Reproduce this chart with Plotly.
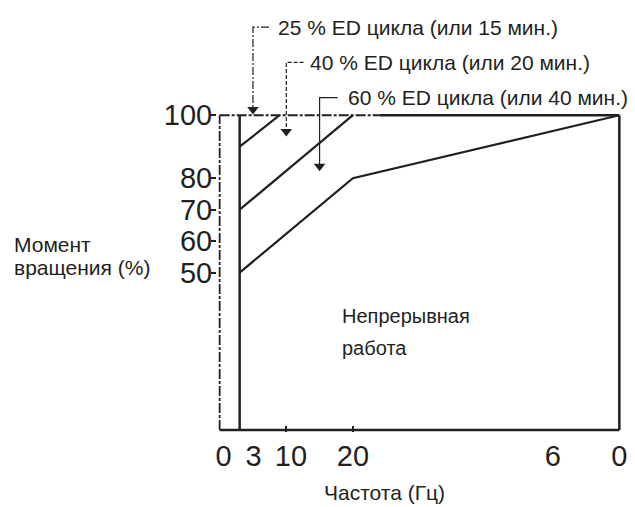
import plotly.graph_objects as go

# ---- data ----
x_range = [-0.4, 60.4]
y_range = [-0.6, 135]
x_min, x_max = 0, 60
y_min, y_top = 0, 100

x_label_pos = [0.6, 5.1, 10.7, 20, 50, 60]
x_ticktext = ["0", "3", "10", "20", "6", "0"]
x_tickmarks = [10, 20]
y_tickvals = [50, 60, 70, 80, 100]
y_ticktext = ["50", "60", "70", "80", "100"]

# duty-cycle limit curves
ed25_x = [3, 9]
ed25_y = [90, 100]
ed40_x = [3, 20]
ed40_y = [70, 100]
ed60_x = [3, 20, 60]
ed60_y = [50, 80, 100]
min_freq = 3

# callouts: label, leader x, leader top y, arrow tip y, elbow end x, text x, dash
callout_labels = ["25 % ED цикла (или 15 мин.)",
                  "40 % ED цикла (или 20 мин.)",
                  "60 % ED цикла (или 40 мин.)"]
callout_x = [5, 10, 15]
callout_top = [128, 116.8, 105.6]
callout_tip = [100, 93, 82]
callout_elbow = [7.4, 12.6, 17.7]
callout_text_x = [8.4, 13.2, 19.0]
callout_dash = ["8px,2px,2px,2px", "4px,2px", "solid"]

INK = "#231f20"
FONT = "Liberation Sans, Arial, Helvetica, sans-serif"

fig = go.Figure()

def line(xs, ys, width=2.5, dash="solid"):
    fig.add_trace(go.Scatter(x=xs, y=ys, mode="lines",
                             line=dict(color=INK, width=width, dash=dash),
                             hoverinfo="skip", showlegend=False))

# frame
line([x_min, x_min], [y_min, y_top], width=1.8, dash="10px,2px,3px,2px")   # left
line([x_min, 24], [y_top, y_top], width=2, dash="10px,2px,3px,2px")        # top (left part)
line([24, x_max], [y_top, y_top], width=2.5)                                # top (right part)
line([x_max, x_max], [y_min, y_top], width=2.5)                             # right
line([x_min, x_max], [y_min, y_min], width=2.5)                             # bottom
# minimum frequency line
line([min_freq, min_freq], [y_min, y_top], width=2.5)

# limit curves
line(ed25_x, ed25_y, width=2.2)
line(ed40_x, ed40_y, width=2.2)
line(ed60_x, ed60_y, width=2.2)

# callout leaders and arrowheads
for lab, cx, top, tip, ex, tx, d in zip(callout_labels, callout_x, callout_top,
                                        callout_tip, callout_elbow, callout_text_x,
                                        callout_dash):
    line([ex, cx, cx], [top, top, tip + 2.5], width=1.2, dash=d)
    fig.add_trace(go.Scatter(x=[cx], y=[tip + 1.8], mode="markers",
                             marker=dict(symbol="triangle-down", size=10, color=INK),
                             hoverinfo="skip", showlegend=False, cliponaxis=False))
    fig.add_annotation(x=tx, y=top, text=lab, showarrow=False, xanchor="left",
                       yanchor="middle", font=dict(size=21, color=INK, family=FONT))

# region label
fig.add_annotation(x=18.0, y=36.3, text="Непрерывная", showarrow=False, xanchor="left",
                   yanchor="middle", font=dict(size=20, color=INK, family=FONT))
fig.add_annotation(x=18.0, y=26.2, text="работа", showarrow=False, xanchor="left",
                   yanchor="middle", font=dict(size=20, color=INK, family=FONT))

# axis titles (paper coordinates)
fig.add_annotation(x=-0.507, y=0.439, xref="paper", yref="paper", text="Момент",
                   showarrow=False, xanchor="left", yanchor="middle",
                   font=dict(size=21, color=INK, family=FONT))
fig.add_annotation(x=-0.507, y=0.385, xref="paper", yref="paper", text="вращения (%)",
                   showarrow=False, xanchor="left", yanchor="middle",
                   font=dict(size=21, color=INK, family=FONT))
fig.add_annotation(x=0.4148, y=-0.1426, xref="paper", yref="paper", text="Частота (Гц)",
                   showarrow=False, xanchor="center", yanchor="middle",
                   font=dict(size=21, color=INK, family=FONT))

fig.update_layout(
    width=635, height=507,
    margin=dict(l=217, r=13, t=5, b=75),
    paper_bgcolor="white", plot_bgcolor="white",
    font=dict(family=FONT, color=INK),
    xaxis=dict(range=x_range, tickvals=x_label_pos, ticktext=x_ticktext,
               ticks="", showgrid=False, zeroline=False, showline=False,
               ticklabelstandoff=4,
               tickfont=dict(size=29, color=INK, family=FONT), fixedrange=True),
    xaxis2=dict(range=x_range, overlaying="x", tickvals=x_tickmarks, ticks="inside",
                ticklen=6, tickwidth=1.5, tickcolor=INK, showticklabels=False,
                showgrid=False, zeroline=False, showline=False, side="bottom"),
    yaxis=dict(range=y_range, tickvals=y_tickvals, ticktext=y_ticktext,
               ticks="outside", ticklen=5, tickwidth=1.5, tickcolor=INK,
               showgrid=False, zeroline=False, showline=False,
               ticklabelstandoff=-7,
               tickfont=dict(size=29, color=INK, family=FONT)),
)
# dummy trace to activate xaxis2
fig.add_trace(go.Scatter(x=[None], y=[None], xaxis="x2", showlegend=False, hoverinfo="skip"))

fig.write_html("out.html", config={"displayModeBar": False},
               post_script="document.body.style.margin='0';")
